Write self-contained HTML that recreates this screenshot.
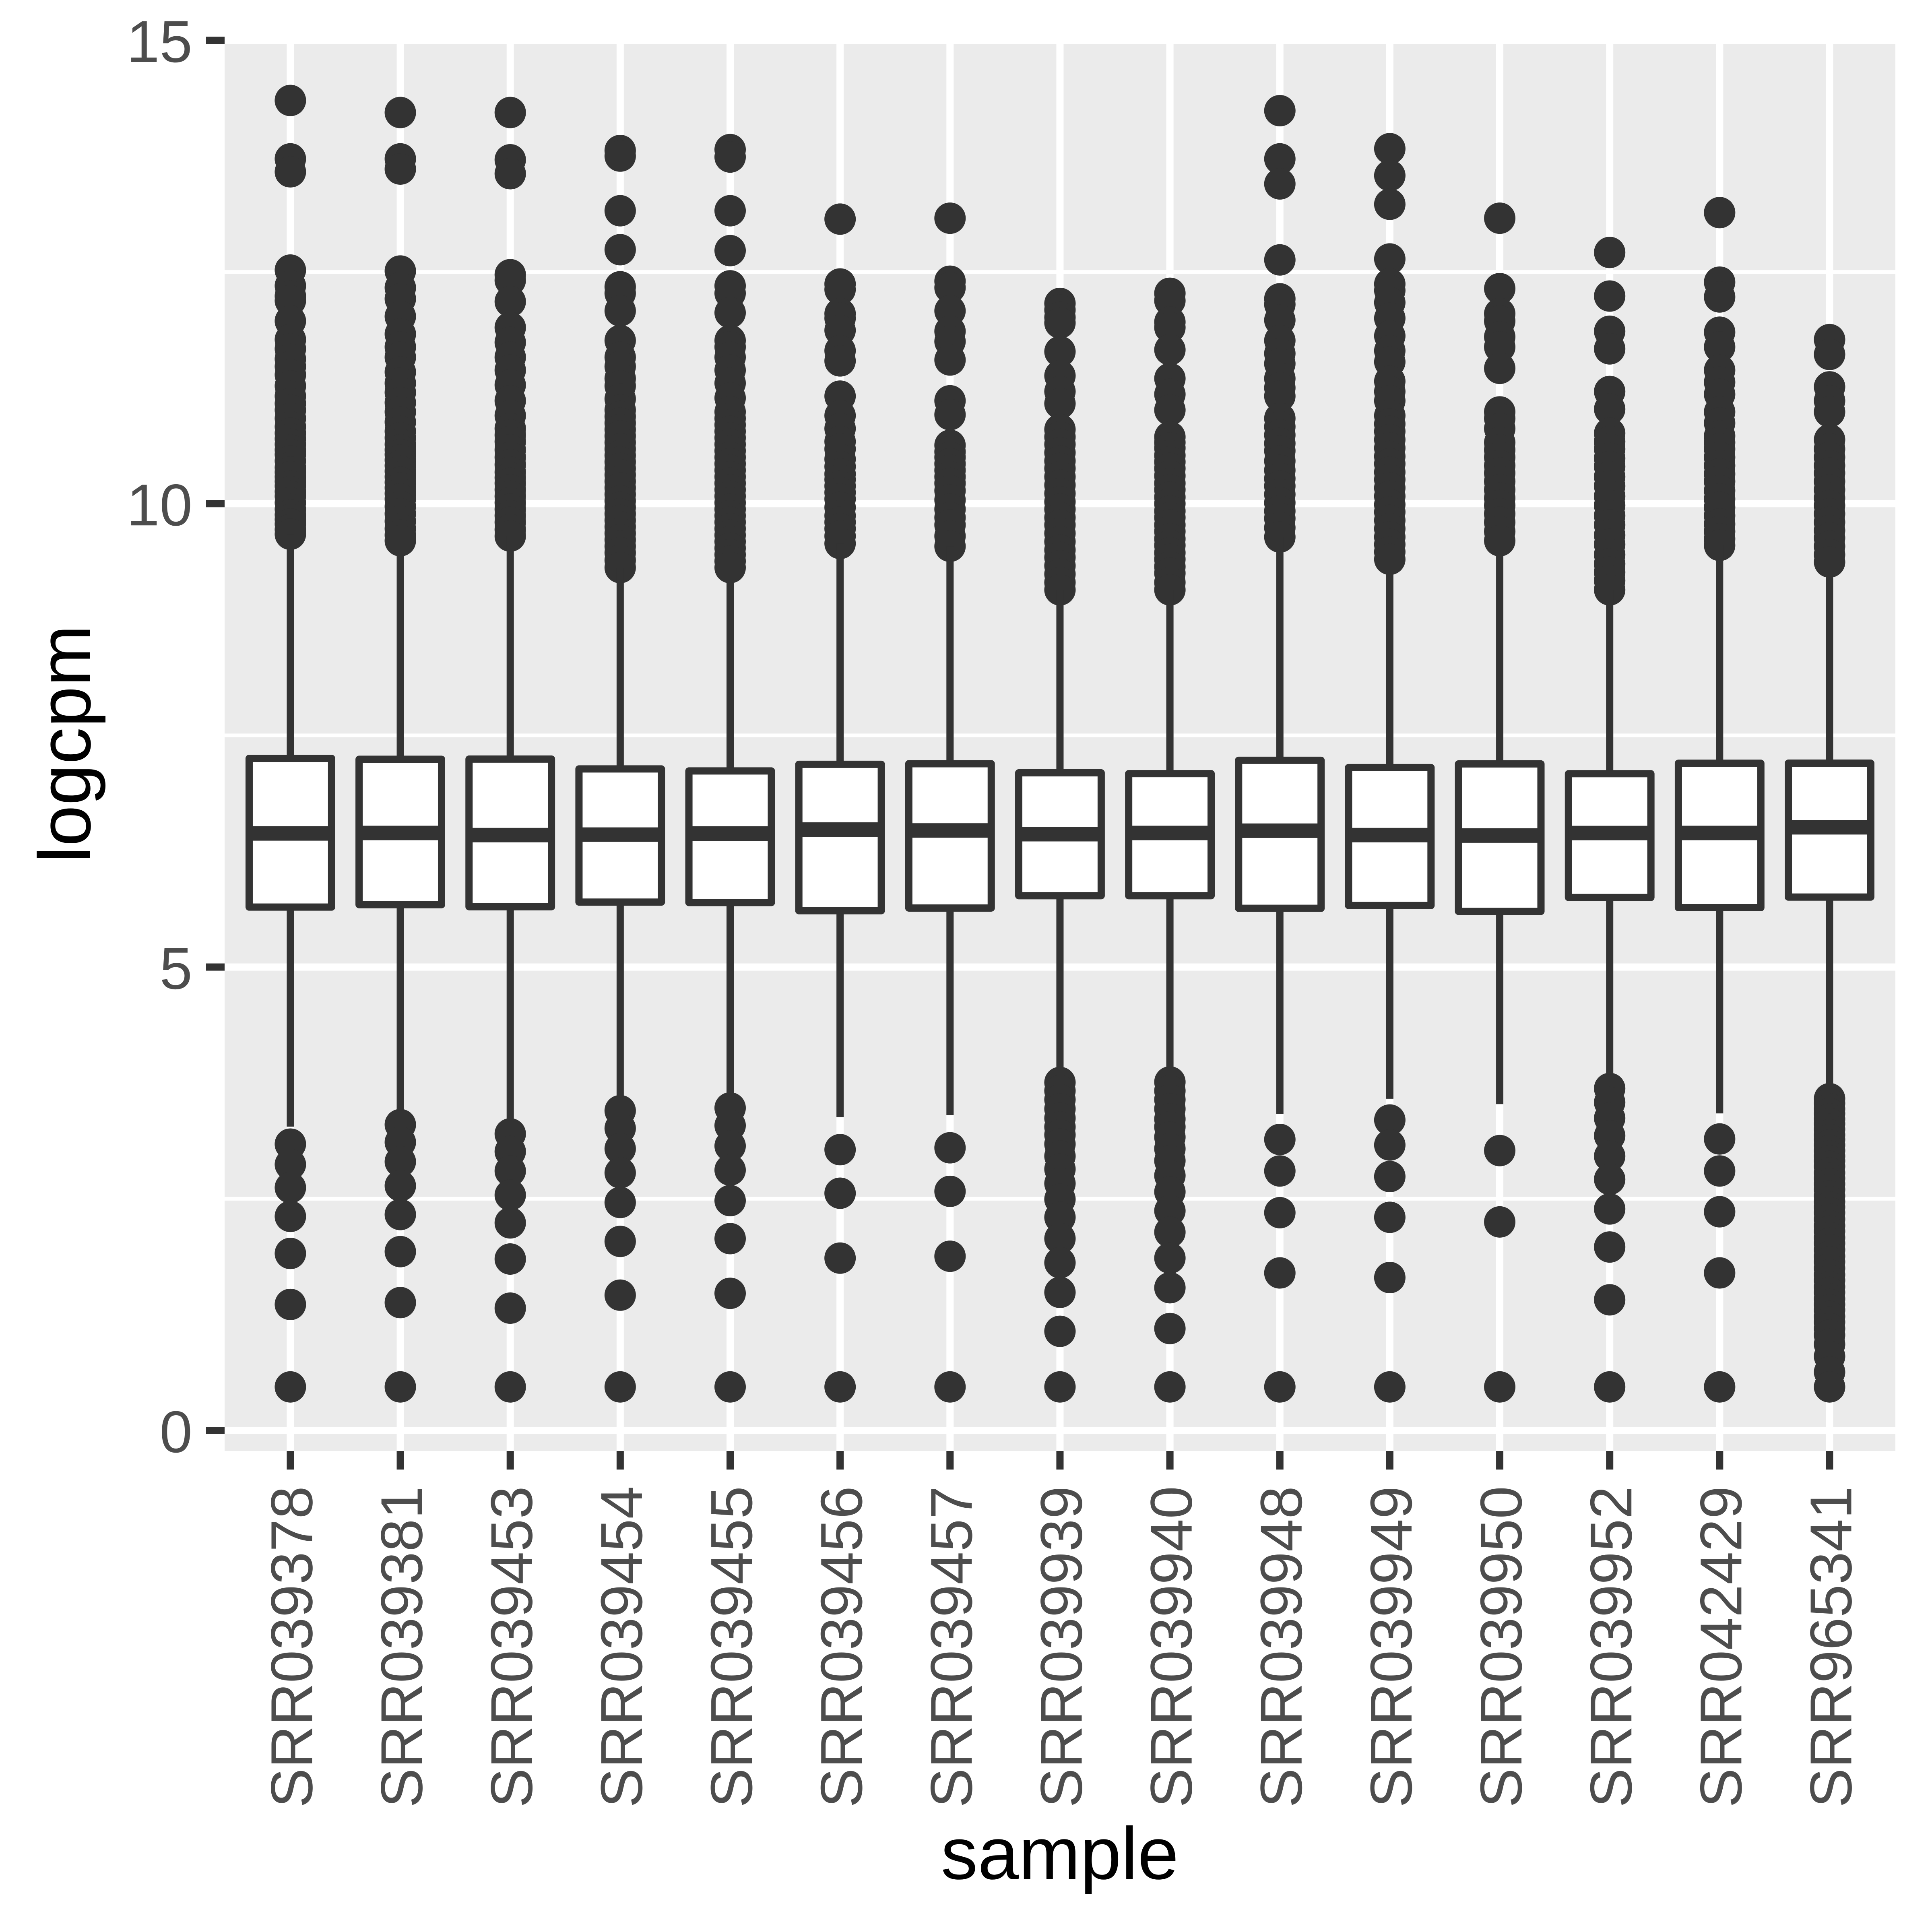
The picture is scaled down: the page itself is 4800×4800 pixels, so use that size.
<!DOCTYPE html>
<html lang="en">
<head>
<meta charset="utf-8">
<title>logcpm by sample</title>
<style>
html,body{margin:0;padding:0;background:#fff;}
svg{display:block;font-family:"Liberation Sans",sans-serif;}
</style>
</head>
<body>
<svg id="chart" xmlns="http://www.w3.org/2000/svg" width="4800" height="4800" viewBox="0 0 4800 4800">
  <rect x="0" y="0" width="4800" height="4800" fill="#ffffff"/>
  <rect x="558" y="91" width="4151" height="3514" fill="#EBEBEB"/>
  <g id="grid"></g>
  <g id="marks"></g>
  <g id="axes"></g>
  <text x="2633" y="4668" text-anchor="middle" font-size="183.3" fill="#000000">sample</text>
  <text transform="translate(224,1848) rotate(-90)" x="0" y="0" text-anchor="middle" font-size="183.3" fill="#000000">logcpm</text>
</svg>
<script>
const samples = ["SRR039378","SRR039381","SRR039453","SRR039454","SRR039455","SRR039456","SRR039457","SRR039939","SRR039940","SRR039948","SRR039949","SRR039950","SRR039952","SRR042429","SRR965341"];
const q1Values = [5.647,5.673,5.651,5.701,5.696,5.608,5.637,5.770,5.770,5.634,5.664,5.601,5.751,5.641,5.755];
const medianValues = [6.442,6.447,6.424,6.429,6.440,6.483,6.474,6.434,6.447,6.471,6.424,6.419,6.446,6.447,6.508];
const q3Values = [7.252,7.242,7.244,7.138,7.116,7.188,7.194,7.096,7.087,7.231,7.153,7.192,7.086,7.199,7.200];
const whiskerLowValues = [3.279,3.45,3.35,3.60,3.63,3.382,3.404,3.90,3.91,3.416,3.579,3.521,3.84,3.421,3.73];
const whiskerHighValues = [9.67,9.60,9.65,9.31,9.31,9.57,9.54,9.07,9.07,9.64,9.40,9.60,9.07,9.55,9.37];
const outliersHigh = [
  [14.35,13.72,13.58,12.52,12.35,12.24,12.19,11.97,11.77,11.67,11.56,11.48,11.39,11.27,11.16,11.08,11.01,10.92,10.83,10.76,10.70,10.64,10.58,10.53,10.46,10.39,10.34,10.29,10.24,10.19,10.13,10.08,10.01,9.94,9.88,9.83,9.78,9.72,9.67],
  [14.22,13.72,13.61,12.51,12.33,12.21,12.02,11.83,11.69,11.58,11.42,11.30,11.20,11.09,10.99,10.88,10.78,10.71,10.64,10.58,10.53,10.47,10.41,10.35,10.29,10.23,10.17,10.11,10.05,9.97,9.89,9.81,9.73,9.66,9.60],
  [14.22,13.71,13.56,12.47,12.41,12.18,11.90,11.74,11.58,11.44,11.28,11.11,10.95,10.81,10.74,10.67,10.58,10.50,10.42,10.34,10.28,10.22,10.15,10.08,10.01,9.94,9.87,9.80,9.72,9.65],
  [13.81,13.75,13.16,12.74,12.34,12.27,12.08,11.76,11.58,11.48,11.35,11.27,11.13,11.01,10.94,10.87,10.80,10.73,10.66,10.59,10.52,10.45,10.38,10.31,10.24,10.17,10.10,10.03,9.96,9.89,9.82,9.75,9.68,9.61,9.54,9.47,9.39,9.31],
  [13.82,13.74,13.16,12.73,12.35,12.27,12.06,11.76,11.69,11.58,11.44,11.30,11.14,10.99,10.92,10.85,10.78,10.71,10.64,10.57,10.50,10.43,10.36,10.29,10.22,10.15,10.08,10.01,9.94,9.87,9.80,9.73,9.66,9.59,9.52,9.45,9.38,9.31],
  [13.07,12.37,12.31,12.05,12.00,11.87,11.65,11.54,11.16,10.95,10.81,10.67,10.59,10.48,10.40,10.32,10.26,10.19,10.12,10.05,9.96,9.87,9.80,9.73,9.65,9.57],
  [13.08,12.40,12.33,12.08,11.86,11.75,11.55,11.11,10.96,10.63,10.56,10.50,10.43,10.36,10.29,10.22,10.14,10.04,9.94,9.85,9.77,9.65,9.54],
  [12.16,12.09,12.01,11.95,11.64,11.38,11.21,11.08,10.80,10.72,10.64,10.55,10.46,10.38,10.29,10.20,10.11,10.02,9.94,9.85,9.77,9.68,9.59,9.50,9.42,9.33,9.24,9.15,9.07],
  [12.27,12.19,11.96,11.90,11.66,11.35,11.18,11.01,10.72,10.66,10.60,10.52,10.45,10.38,10.30,10.22,10.15,10.07,10.00,9.92,9.85,9.77,9.70,9.62,9.55,9.47,9.40,9.32,9.25,9.15,9.07],
  [14.24,13.72,13.45,12.63,12.21,12.15,11.98,11.76,11.62,11.51,11.35,11.25,11.16,10.92,10.83,10.74,10.65,10.57,10.46,10.36,10.27,10.19,10.10,10.01,9.92,9.84,9.74,9.64],
  [13.83,13.54,13.23,12.64,12.37,12.30,12.17,12.00,11.81,11.65,11.53,11.32,11.21,11.11,10.95,10.86,10.78,10.69,10.60,10.51,10.43,10.34,10.26,10.17,10.08,9.99,9.91,9.82,9.73,9.64,9.56,9.48,9.40],
  [13.08,12.32,12.05,11.97,11.80,11.69,11.46,10.99,10.92,10.81,10.66,10.58,10.50,10.41,10.33,10.24,10.15,10.06,9.98,9.89,9.80,9.70,9.60],
  [12.71,12.24,11.86,11.67,11.21,11.02,10.76,10.67,10.59,10.49,10.40,10.29,10.19,10.08,9.98,9.87,9.77,9.66,9.56,9.45,9.35,9.26,9.17,9.07],
  [13.14,12.39,12.23,11.85,11.69,11.44,11.31,11.18,10.99,10.87,10.73,10.66,10.59,10.50,10.41,10.32,10.24,10.14,10.05,9.96,9.87,9.78,9.70,9.62,9.55],
  [11.77,11.61,11.26,11.11,10.99,10.69,10.59,10.50,10.41,10.33,10.24,10.15,10.06,9.98,9.89,9.80,9.71,9.63,9.54,9.45,9.37]
];
const outliersLow = [
  [3.09,2.87,2.62,2.31,1.91,1.36,0.47],
  [3.30,3.11,2.90,2.64,2.33,1.93,1.38,0.47],
  [3.20,3.01,2.80,2.54,2.24,1.85,1.32,0.47],
  [3.45,3.26,3.04,2.78,2.46,2.04,1.46,0.47],
  [3.48,3.29,3.07,2.81,2.48,2.07,1.48,0.47],
  [3.03,2.56,1.86,0.47],
  [3.05,2.58,1.88,0.47],
  [3.755,3.665,3.57,3.47,3.37,3.275,3.19,3.09,2.96,2.82,2.665,2.495,2.30,2.07,1.81,1.49,1.07,0.47],
  [3.76,3.665,3.57,3.47,3.36,3.275,3.165,3.04,2.91,2.75,2.575,2.37,2.14,1.86,1.54,1.10,0.47],
  [3.14,2.80,2.35,1.70,0.47],
  [3.35,3.08,2.74,2.30,1.65,0.47],
  [3.02,2.25,0.47],
  [3.69,3.54,3.37,3.18,2.96,2.71,2.39,1.98,1.41,0.47],
  [3.145,2.80,2.36,1.70,0.47],
  [3.58,3.53,3.47,3.42,3.36,3.31,3.25,3.19,3.14,3.08,3.02,2.96,2.91,2.85,2.78,2.72,2.66,2.60,2.53,2.47,2.41,2.35,2.28,2.21,2.15,2.08,2.02,1.95,1.88,1.82,1.75,1.68,1.62,1.55,1.49,1.42,1.36,1.30,1.23,1.17,1.10,1.03,0.93,0.80,0.63,0.47]
];
const yTickValues = [0,5,10,15];
const yTickLabels = ["0","5","10","15"];
const yMinorValues = [2.5,7.5,12.5];

const NS = "http://www.w3.org/2000/svg";
const X0 = 721.4, XSTEP = 273.15, Y0 = 3554, YUNIT = 230.27;
const PANEL_L = 558, PANEL_R = 4709, PANEL_T = 91, PANEL_B = 3605;
const BOX_W = 0.75 * XSTEP, DARK = "#333333";
function xScale(i){ return X0 + i * XSTEP; }
function yScale(v){ return Y0 - v * YUNIT; }
function mk(tag, attrs, parent){
  const el = document.createElementNS(NS, tag);
  for (const k in attrs) el.setAttribute(k, attrs[k]);
  parent.appendChild(el);
  return el;
}
const grid = document.getElementById("grid");
const marks = document.getElementById("marks");
const axes = document.getElementById("axes");

yMinorValues.forEach(function(v){
  const l = mk("line", {x1:PANEL_L, x2:PANEL_R, y1:yScale(v), y2:yScale(v), stroke:"#ffffff", "stroke-width":9}, grid);
  
  
});
yTickValues.forEach(function(v){
  const l = mk("line", {x1:PANEL_L, x2:PANEL_R, y1:yScale(v), y2:yScale(v), stroke:"#ffffff", "stroke-width":18}, grid);
  
  
});
samples.forEach(function(s, i){
  const l = mk("line", {x1:xScale(i), x2:xScale(i), y1:PANEL_T, y2:PANEL_B, stroke:"#ffffff", "stroke-width":18}, grid);
  
  
});

samples.forEach(function(s, i){
  const cx = xScale(i);
  const g = mk("g", {}, marks);
  
  
  outliersHigh[i].concat(outliersLow[i]).forEach(function(v){
    const c = mk("circle", {cx:cx, cy:yScale(v), r:39, fill:DARK}, g);
    
    
  });
  const wu = mk("line", {x1:cx, x2:cx, y1:yScale(q3Values[i]), y2:yScale(whiskerHighValues[i]), stroke:DARK, "stroke-width":18}, g);
  
  
  const wl = mk("line", {x1:cx, x2:cx, y1:yScale(q1Values[i]), y2:yScale(whiskerLowValues[i]), stroke:DARK, "stroke-width":18}, g);
  
  
  const r = mk("rect", {x:cx - BOX_W/2, y:yScale(q3Values[i]), width:BOX_W, height:yScale(q1Values[i]) - yScale(q3Values[i]), fill:"#ffffff", stroke:DARK, "stroke-width":18, "stroke-linejoin":"round"}, g);
  
  
  const m = mk("line", {x1:cx - BOX_W/2, x2:cx + BOX_W/2, y1:yScale(medianValues[i]), y2:yScale(medianValues[i]), stroke:DARK, "stroke-width":36}, g);
  
  

  const t = mk("line", {x1:cx, x2:cx, y1:PANEL_B, y2:PANEL_B + 46, stroke:DARK, "stroke-width":18}, axes);
  
  
  const lab = mk("text", {transform:"translate(" + (cx + 54) + ",3692) rotate(-90)", "text-anchor":"end", "font-size":146.67, fill:"#4D4D4D"}, axes);
  
  
  lab.textContent = s;
});

yTickValues.forEach(function(v, i){
  const t = mk("line", {x1:PANEL_L - 46, x2:PANEL_L, y1:yScale(v), y2:yScale(v), stroke:DARK, "stroke-width":18}, axes);
  
  
  const lab = mk("text", {x:478, y:yScale(v) + 54, "text-anchor":"end", "font-size":146.67, fill:"#4D4D4D"}, axes);
  
  
  lab.textContent = yTickLabels[i];
});
</script>
</body>
</html>
